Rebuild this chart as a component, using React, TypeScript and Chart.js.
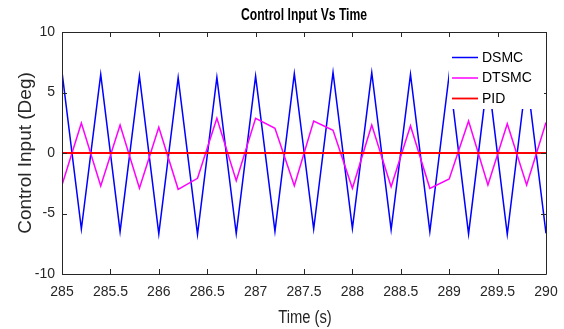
import React, { useEffect, useRef } from "react";
import { Chart, registerables } from "chart.js";

Chart.register(...registerables);

const times = [285, 285.2, 285.4, 285.6, 285.8, 286, 286.2, 286.4, 286.6, 286.8, 287, 287.2, 287.4, 287.6, 287.8, 288, 288.2, 288.4, 288.6, 288.8, 289, 289.2, 289.4, 289.6, 289.8, 290];
const dsmc = [6.7, -6.28, 6.5, -6.5, 6.36, -6.69, 6.23, -6.72, 6.25, -6.67, 6.36, -6.47, 6.56, -6.28, 6.67, -6.23, 6.64, -6.34, 6.5, -6.5, 6.5, -6.69, 6.4, -6.72, 6.4, -6.64];
const dtsmc = [-2.64, 2.48, -2.73, 2.31, -2.92, 2.12, -3.0, -2.09, 2.87, -2.29, 2.87, 2.04, -2.7, 2.64, 1.87, -2.92, 2.31, -2.78, 2.26, -2.92, -2.15, 2.64, -2.64, 2.42, -2.64, 2.53];
const pid = [0, 0, 0, 0, 0, 0, 0, 0, 0, 0, 0, 0, 0, 0, 0, 0, 0, 0, 0, 0, 0, 0, 0, 0, 0, 0];

const seriesNames = ["DSMC", "DTSMC", "PID"];
const seriesColors = ["#0000FF", "#FF00FF", "#FF0000"];
const xTicks = [285, 285.5, 286, 286.5, 287, 287.5, 288, 288.5, 289, 289.5, 290];
const yTicks = [-10, -5, 0, 5, 10];
const titleText = "Control Input Vs Time";
const xTitle = "Time (s)";
const yTitle = "Control Input (Deg)";

const AXIS_COLOR = "#262626";

function condensedText(ctx: any, text: string, x: number, y: number, font: string, sx: number, color: string) {
  ctx.save();
  ctx.translate(x, y);
  ctx.scale(sx, 1);
  ctx.font = font;
  ctx.fillStyle = color;
  ctx.textAlign = "center";
  ctx.textBaseline = "middle";
  ctx.fillText(text, 0, 0);
  ctx.restore();
}

const boxPlugin = {
  id: "matlabBox",
  afterDraw(chart: any) {
    const { ctx, chartArea } = chart;
    const { left, right, top, bottom } = chartArea;
    const xs = chart.scales.x;
    const ys = chart.scales.y;
    ctx.save();
    ctx.strokeStyle = AXIS_COLOR;
    ctx.lineWidth = 1;
    ctx.beginPath();
    ctx.rect(Math.round(left) + 0.5, Math.round(top) + 0.5, Math.round(right - left), Math.round(bottom - top));
    ctx.stroke();
    const tl = 5;
    ctx.beginPath();
    xTicks.forEach((t) => {
      const px = Math.round(xs.getPixelForValue(t)) + 0.5;
      ctx.moveTo(px, bottom);
      ctx.lineTo(px, bottom - tl);
      ctx.moveTo(px, top);
      ctx.lineTo(px, top + tl);
    });
    yTicks.forEach((v) => {
      const py = Math.round(ys.getPixelForValue(v)) + 0.5;
      ctx.moveTo(left, py);
      ctx.lineTo(left + tl, py);
      ctx.moveTo(right, py);
      ctx.lineTo(right - tl, py);
    });
    ctx.stroke();

    // title and x-axis label (condensed like the reference)
    condensedText(ctx, titleText, (left + right) / 2, 16, "bold 16px 'Liberation Sans', Arial, sans-serif", 0.76, "#000000");
    condensedText(ctx, xTitle, (left + right) / 2 + 1, 318, "18px 'Liberation Sans', Arial, sans-serif", 0.82, AXIS_COLOR);

    // legend
    const bx = 449, by = 40, bw = 95, bh = 69;
    ctx.fillStyle = "#FFFFFF";
    ctx.fillRect(bx, by, bw, bh);
    const rows = [57.5, 78, 98.5];
    ctx.font = "14px 'Liberation Sans', Arial, sans-serif";
    ctx.textAlign = "left";
    ctx.textBaseline = "middle";
    seriesNames.forEach((name, i) => {
      ctx.strokeStyle = seriesColors[i];
      ctx.lineWidth = i === 2 ? 1.8 : 1.5;
      ctx.beginPath();
      ctx.moveTo(452, rows[i]);
      ctx.lineTo(478, rows[i]);
      ctx.stroke();
      ctx.fillStyle = "#000000";
      ctx.fillText(name, 482, rows[i] + 0.5);
    });
    ctx.restore();
  },
};

export default function App() {
  const ref = useRef<HTMLCanvasElement | null>(null);
  useEffect(() => {
    if (!ref.current) return;
    const mk = (vals: number[]) => times.map((t, i) => ({ x: t, y: vals[i] }));
    const chart = new Chart(ref.current, {
      type: "line",
      data: {
        datasets: [
          { label: seriesNames[2], data: mk(pid), borderColor: seriesColors[2], borderWidth: 2 },
          { label: seriesNames[1], data: mk(dtsmc), borderColor: seriesColors[1], borderWidth: 1.5 },
          { label: seriesNames[0], data: mk(dsmc), borderColor: seriesColors[0], borderWidth: 1.5 },
        ],
      },
      options: {
        animation: false,
        responsive: false,
        devicePixelRatio: 1,
        layout: { padding: { top: 32, right: 18, left: 0, bottom: 0 } },
        elements: { point: { radius: 0 }, line: { tension: 0 } },
        plugins: { legend: { display: false }, title: { display: false }, tooltip: { enabled: false } },
        scales: {
          x: {
            type: "linear",
            min: 285,
            max: 290,
            grid: { display: false, drawTicks: false },
            border: { display: false },
            afterBuildTicks: (s: any) => { s.ticks = xTicks.map((v) => ({ value: v })); },
            afterFit: (s: any) => { s.height = 55; s.paddingLeft = 0; s.paddingRight = 0; },
            ticks: {
              autoSkip: false,
              maxRotation: 0,
              padding: 10,
              color: AXIS_COLOR,
              font: { family: "'Liberation Sans', Arial, sans-serif", size: 14 },
              callback: (v: any) => String(v),
            },
            title: { display: false, text: xTitle },
          },
          y: {
            type: "linear",
            min: -10,
            max: 10,
            grid: { display: false, drawTicks: false },
            border: { display: false },
            afterBuildTicks: (s: any) => { s.ticks = yTicks.map((v) => ({ value: v })); },
            afterFit: (s: any) => { s.width = 62; s.paddingTop = 0; s.paddingBottom = 0; },
            ticks: {
              padding: 7,
              color: AXIS_COLOR,
              font: { family: "'Liberation Sans', Arial, sans-serif", size: 14 },
              callback: (v: any) => String(v),
            },
            title: {
              display: true,
              text: yTitle,
              color: AXIS_COLOR,
              font: { family: "'Liberation Sans', Arial, sans-serif", size: 19 },
              padding: { top: 14.6, bottom: 0 },
            },
          },
        },
      },
      plugins: [boxPlugin],
    });
    return () => chart.destroy();
  }, []);
  return (
    <div style={{ position: "absolute", left: 0, top: 0, width: 564, height: 329, background: "#fff" }}>
      <canvas ref={ref} width={564} height={329} style={{ width: 564, height: 329, display: "block" }} />
    </div>
  );
}
